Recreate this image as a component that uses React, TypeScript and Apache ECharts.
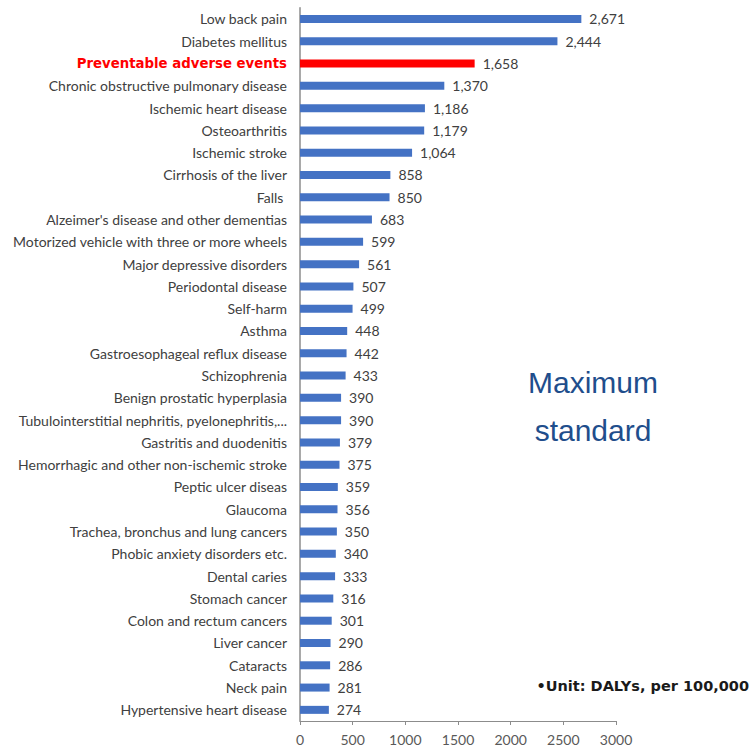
import React, { useEffect, useRef } from "react";
import * as echarts from "echarts";

const categories: string[] = [
  "Low back pain",
  "Diabetes mellitus",
  "Preventable adverse events",
  "Chronic obstructive pulmonary disease",
  "Ischemic heart disease",
  "Osteoarthritis",
  "Ischemic stroke",
  "Cirrhosis of the liver",
  "Falls ",
  "Alzeimer's disease and other dementias",
  "Motorized vehicle with three or more wheels",
  "Major depressive disorders",
  "Periodontal disease",
  "Self-harm",
  "Asthma",
  "Gastroesophageal reflux disease",
  "Schizophrenia",
  "Benign prostatic hyperplasia",
  "Tubulointerstitial nephritis, pyelonephritis,...",
  "Gastritis and duodenitis",
  "Hemorrhagic and other non-ischemic stroke",
  "Peptic ulcer diseas",
  "Glaucoma",
  "Trachea, bronchus and lung cancers",
  "Phobic anxiety disorders etc.",
  "Dental caries",
  "Stomach cancer",
  "Colon and rectum cancers",
  "Liver cancer",
  "Cataracts",
  "Neck pain",
  "Hypertensive heart disease",
];

const values: number[] = [
  2671, 2444, 1658, 1370, 1186, 1179, 1064, 858, 850, 683, 599, 561, 507, 499,
  448, 442, 433, 390, 390, 379, 375, 359, 356, 350, 340, 333, 316, 301, 290, 286,
  281, 274,
];

const highlighted = "Preventable adverse events";
const xTicks = { min: 0, max: 3000, interval: 500 };
const noteTitle = ["Maximum", "standard"];
const unitNote = "\u2022Unit: DALYs, per 100,000";

export default function App() {
  const ref = useRef<HTMLDivElement>(null);

  useEffect(() => {
    if (!ref.current) return;
    const chart = echarts.init(ref.current, undefined, { renderer: "svg" });
    chart.setOption({
      animation: false,
      grid: { left: 300, right: 135, top: 7.85, bottom: 24.85, containLabel: false },
      xAxis: {
        type: "value",
        min: xTicks.min,
        max: xTicks.max,
        interval: xTicks.interval,
        splitLine: { show: false },
        axisLine: { show: true, lineStyle: { color: "#8c8c8c", width: 1 } },
        axisTick: { show: true, length: 4, lineStyle: { color: "#8c8c8c" } },
        axisLabel: {
          color: "#595959",
          fontFamily: "Lato",
          fontSize: 14,
          margin: 11,
          formatter: (v: number) => String(v),
        },
      },
      yAxis: {
        type: "category",
        inverse: true,
        data: categories,
        axisLine: { show: true, lineStyle: { color: "#8c8c8c", width: 1.5 } },
        axisTick: { show: false },
        axisLabel: {
          color: "#404040",
          fontFamily: "Lato",
          fontSize: 14,
          margin: 13,
          interval: 0,
          formatter: (v: string) => (v === highlighted ? `{red|${v}}` : v),
          rich: {
            red: {
              color: "#ff0000",
              fontFamily: "DejaVu Sans",
              fontWeight: "bold",
              fontSize: 13.3,
            },
          },
        },
      },
      series: [
        {
          type: "bar",
          data: values.map((v, i) => ({
            value: v,
            itemStyle: { color: categories[i] === highlighted ? "#ff0000" : "#4472c4" },
          })),
          barWidth: 8,
          label: {
            show: true,
            position: "right",
            distance: 8,
            color: "#404040",
            fontFamily: "Lato",
            fontSize: 14,
            formatter: (p: any) => Number(p.value).toLocaleString("en-US"),
          },
        },
      ],
      graphic: [
        {
          type: "text",
          x: 593,
          y: 382,
          style: {
            text: noteTitle[0],
            fill: "#1f4e8c",
            font: "30px 'Liberation Sans'",
            textAlign: "center",
            textVerticalAlign: "middle",
          },
        },
        {
          type: "text",
          x: 593,
          y: 430,
          style: {
            text: noteTitle[1],
            fill: "#1f4e8c",
            font: "30px 'Liberation Sans'",
            textAlign: "center",
            textVerticalAlign: "middle",
          },
        },
        {
          type: "text",
          x: 749,
          y: 686,
          style: {
            text: unitNote,
            fill: "#1a1a1a",
            font: "bold 14.5px 'DejaVu Sans'",
            textAlign: "right",
            textVerticalAlign: "middle",
          },
        },
      ],
    });
    return () => chart.dispose();
  }, []);

  return (
    <div
      ref={ref}
      style={{ width: 751, height: 746, position: "absolute", left: 0, top: 0, background: "#fff" }}
    />
  );
}
